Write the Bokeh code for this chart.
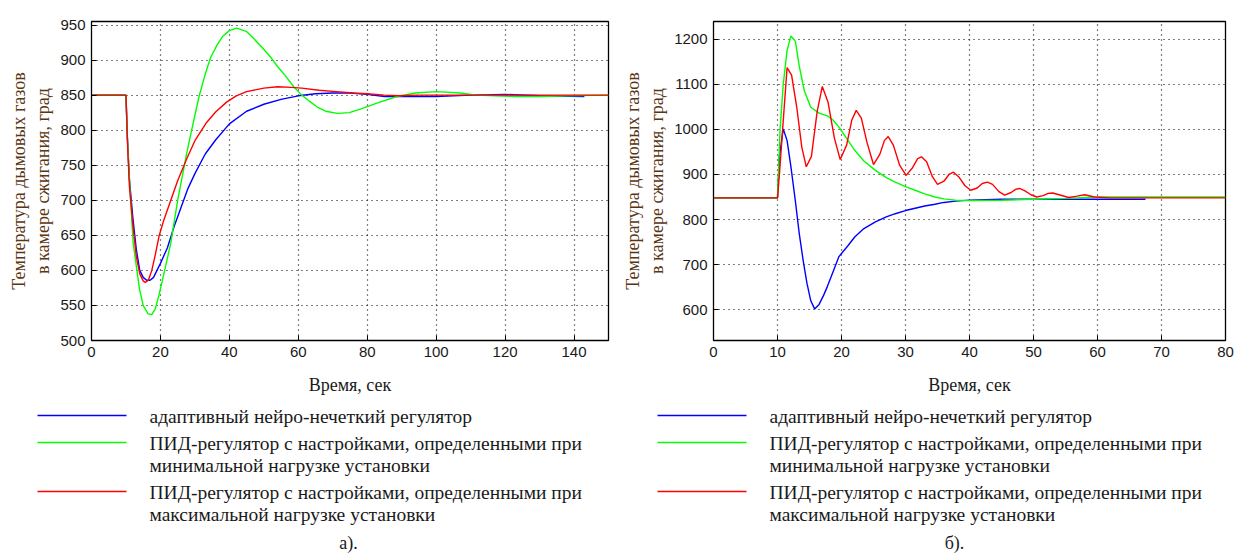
from bokeh.plotting import figure
from bokeh.layouts import row, column
from bokeh.models import Range1d, FixedTicker
from bokeh.core.properties import value
from bokeh.embed import file_html
from bokeh.resources import INLINE

# ---------------- data: chart a) ----------------
a_blue_t = [0, 10, 10.4, 11, 12, 13, 14, 15, 16, 17, 18, 19, 20, 22, 24, 26, 28, 30, 33, 36, 40, 45, 50, 55, 60, 65, 70, 75, 80, 85, 90, 100, 110, 120, 130, 143]
a_blue_v = [850, 850, 790, 730, 675, 630, 600, 590, 586, 586, 590, 600, 610, 632, 663, 690, 717, 738, 766, 786, 809, 827, 837, 844, 849, 852, 853, 853, 851, 848, 848, 848, 850, 851, 849, 848]

a_green_t = [0, 10, 10.5, 11, 12.1, 13.9, 15, 16.4, 17.5, 18.5, 19.6, 21, 23, 25, 27.7, 29.5, 31.2, 33, 34.6, 36.5, 38.1, 40, 42.1, 44.9, 47, 49.5, 52, 54.1, 56.5, 58.7, 61, 63.3, 65.5, 67.9, 71.4, 74.8, 78, 83, 88.6, 94, 100.1, 107, 111.6, 117, 123, 130, 138, 150]
a_green_v = [850, 850, 780, 730, 639, 574, 550, 538, 537, 545, 565, 595, 639, 700, 769, 810, 848, 880, 904, 922, 934, 942, 945.5, 941, 931, 918, 904, 890, 876, 862, 850, 841, 833, 827, 824, 825, 830, 839, 848, 853, 855, 853, 850, 849, 848, 848, 849, 850]

a_red_t = [0, 10, 10.5, 11, 12, 13, 14, 15, 15.6, 16.5, 17.5, 18.5, 19.6, 21, 23, 25, 27.7, 30, 33.4, 36, 39.2, 42, 45, 50, 54, 58, 61, 66, 71, 76, 80, 85, 89, 95, 150]
a_red_v = [850, 850, 775, 720, 665, 620, 595, 585, 583, 586, 600, 622, 649, 672, 700, 728, 760, 785, 811, 826, 840, 849, 855, 860, 862, 861, 860, 857, 855, 853, 852, 850, 849, 850, 850]

a_xticks = [0, 20, 40, 60, 80, 100, 120, 140]
a_yticks = [500, 550, 600, 650, 700, 750, 800, 850, 900, 950]

# ---------------- data: chart б) ----------------
b_blue_t = [0, 10, 10.3, 10.9, 11.5, 12.1, 12.8, 13.4, 14, 14.6, 15.2, 15.8, 16.5, 17.2, 17.8, 18.7, 19.6, 21, 22.1, 23.5, 25.3, 27, 28.4, 30, 31.5, 33, 34.6, 36, 37.8, 40, 45, 50, 55, 60, 67.5]
b_blue_v = [848, 848, 940, 1001, 975, 917, 840, 769, 710, 659, 620, 602, 612, 632, 652, 685, 718, 742, 762, 780, 795, 806, 813, 820, 825, 830, 834, 838, 841, 843, 845, 845, 845, 845, 845]

b_green_t = [0, 10, 10.4, 10.9, 11.5, 12.1, 12.8, 13.4, 14.2, 15.2, 16.5, 17.8, 18.7, 19.6, 20.8, 22.1, 23.5, 25.3, 27, 28.4, 30, 31.5, 33, 34.6, 36, 37.8, 40, 45, 50, 55, 60, 70, 80]
b_green_v = [848, 848, 1000, 1100, 1175, 1207, 1195, 1140, 1085, 1049, 1036, 1030, 1020, 1005, 980, 953, 930, 909, 893, 883, 873, 865, 857, 850, 846, 843, 842, 843, 845, 847, 850, 850, 850]

b_red_t = [0, 10, 10.3, 10.8, 11.5, 12.2, 13, 13.8, 14.5, 15.3, 16.2, 17, 17.9, 18.9, 19.8, 20.8, 21.6, 22.3, 23.1, 24, 25, 26, 26.7, 27.3, 28.1, 29.1, 30.1, 31.1, 31.9, 32.5, 33.3, 34.2, 35, 36, 36.8, 37.5, 38.3, 39.3, 40.2, 41.2, 42, 42.8, 43.6, 44.6, 45.5, 46.5, 47.2, 47.8, 48.6, 49.6, 50.5, 51.5, 52.3, 53, 54, 55.5, 56.8, 58, 59.5, 62, 80]
b_red_v = [848, 848, 900, 1000, 1137, 1120, 1050, 960, 917, 940, 1040, 1095, 1060, 980, 933, 965, 1020, 1042, 1025, 970, 922, 945, 975, 984, 965, 920, 898, 915, 935, 939, 928, 895, 878, 885, 900, 905, 895, 875, 865, 870, 880, 883, 878, 862, 854, 860, 867, 869, 864, 855, 850, 853, 858, 859, 855, 849, 852, 855, 850, 848, 848]

b_xticks = [0, 10, 20, 30, 40, 50, 60, 70, 80]
b_yticks = [600, 700, 800, 900, 1000, 1100, 1200]

# ---------------- texts ----------------
x_label = "Время, сек"
y_label = "Температура дымовых газов\nв камере сжигания, град"
legend_lines = [
    ["адаптивный нейро-нечеткий регулятор"],
    ["ПИД-регулятор с настройками, определенными при", "минимальной нагрузке установки"],
    ["ПИД-регулятор с настройками, определенными при", "максимальной нагрузке установки"],
]
series_colors = ["#0000ff", "#00ff00", "#ff0000"]
captions = ["а).", "б)."]

SERIF = "Liberation Serif"
SANS = "Liberation Sans"


def make_chart(W, xr, yr, xt, yt, series, borders):
    left, right, top, bottom = borders
    p = figure(width=W, height=400, x_range=Range1d(*xr), y_range=Range1d(*yr),
               output_backend="svg", toolbar_location=None,
               min_border_left=left, min_border_right=right,
               min_border_top=top, min_border_bottom=bottom)
    p.background_fill_color = "white"
    p.border_fill_color = "white"
    p.outline_line_color = "black"
    p.outline_line_width = 1.3
    p.xaxis.ticker = FixedTicker(ticks=xt)
    p.yaxis.ticker = FixedTicker(ticks=yt)
    for ax in (p.xaxis[0], p.yaxis[0]):
        ax.axis_line_color = "black"
        ax.major_tick_in = 5
        ax.major_tick_out = 0
        ax.minor_tick_line_color = None
        ax.major_tick_line_color = "black"
        ax.major_label_text_font = SANS
        ax.major_label_text_font_size = "15px"
        ax.major_label_text_color = "#1a1a1a"
        ax.major_label_standoff = 6
        ax.axis_label_text_font = SERIF
        ax.axis_label_text_font_style = "normal"
        ax.axis_label_text_font_size = "18px"
    p.xaxis.axis_label = x_label
    p.xaxis.axis_label_text_color = "#1a1a1a"
    p.xaxis.axis_label_standoff = 15
    p.yaxis.axis_label = y_label
    p.yaxis.axis_label_text_color = "#5a3512"
    p.yaxis.axis_label_standoff = 4
    for g in (p.xgrid[0], p.ygrid[0]):
        g.grid_line_color = "black"
        g.grid_line_dash = "1 4"
        g.grid_line_width = 1.2
    for (t, v), c in zip(series, series_colors):
        p.line(t, v, line_color=c, line_width=1.4)
    return p


def make_legend(W, caption_x, caption):
    lg = figure(width=W, height=155, x_range=Range1d(0, W), y_range=Range1d(155, 0),
                output_backend="svg", toolbar_location=None,
                x_axis_type=None, y_axis_type=None,
                min_border_left=0, min_border_right=0, min_border_top=0, min_border_bottom=0)
    lg.outline_line_color = None
    lg.background_fill_color = "white"
    lg.border_fill_color = "white"
    row_y = [15, 42, 91]
    lg.segment(x0=[37] * 3, x1=[126] * 3, y0=row_y, y1=row_y, line_color=series_colors, line_width=1.6)
    xs, ys, txt = [], [], []
    for ry, lines in zip(row_y, legend_lines):
        for k, s in enumerate(lines):
            xs.append(149)
            ys.append(ry + 1 + 22 * k)
            txt.append(s)
    lg.text(x=xs, y=ys, text=txt, text_font=value(SERIF), text_font_size="19.5px",
            text_baseline="middle", text_align="left", text_color="#1a1a1a")
    lg.text(x=[caption_x], y=[142], text=[caption], text_font=value(SERIF), text_font_size="18px",
            text_baseline="middle", text_align="center", text_color="#1a1a1a")
    return lg


fa = make_chart(620, (0, 150), (500, 955), a_xticks, a_yticks,
                [(a_blue_t, a_blue_v), (a_green_t, a_green_v), (a_red_t, a_red_v)],
                (91, 12, 12, 60))
fb = make_chart(621, (0, 80), (532, 1239), b_xticks, b_yticks,
                [(b_blue_t, b_blue_v), (b_green_t, b_green_v), (b_red_t, b_red_v)],
                (89, 16, 21, 59))
la = make_legend(620, 348, captions[0])
lb = make_legend(621, 334, captions[1])

layout = column(row(fa, fb, spacing=0), row(la, lb, spacing=0), spacing=0)
open("out.html", "w").write(file_html(layout, INLINE))
